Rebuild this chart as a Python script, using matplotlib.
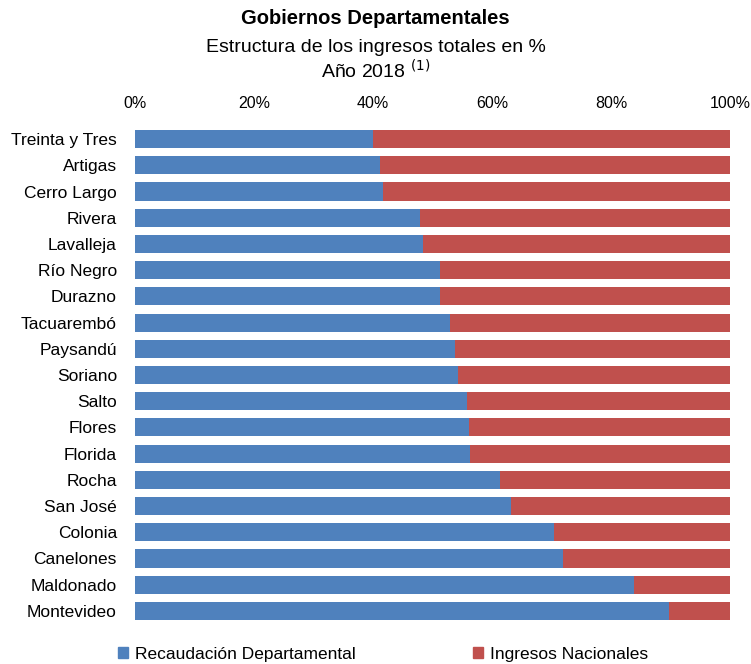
import matplotlib
matplotlib.use("Agg")
import matplotlib.pyplot as plt
import numpy as np
from matplotlib.patches import Patch
from matplotlib.ticker import PercentFormatter

plt.rcParams['font.family'] = ['Liberation Sans', 'DejaVu Sans']

departamentos = ["Treinta y Tres", "Artigas", "Cerro Largo", "Rivera", "Lavalleja",
                 "Río Negro", "Durazno", "Tacuarembó", "Paysandú", "Soriano",
                 "Salto", "Flores", "Florida", "Rocha", "San José", "Colonia",
                 "Canelones", "Maldonado", "Montevideo"]
recaudacion = [40.0, 41.2, 41.7, 47.9, 48.4, 51.3, 51.3, 52.9, 53.8, 54.3,
               55.8, 56.1, 56.3, 61.3, 63.2, 70.5, 71.9, 83.9, 89.7]
nacionales = [100 - v for v in recaudacion]

azul = "#4F81BD"
rojo = "#C0504D"

fig = plt.figure(figsize=(7.51, 6.64), dpi=100)
ax = fig.add_axes([135 / 751, 1 - 624 / 664, 595 / 751, 498 / 664])

y = np.arange(len(departamentos))
ax.barh(y, recaudacion, height=0.69, color=azul, label="Recaudación Departamental")
ax.barh(y, nacionales, left=recaudacion, height=0.69, color=rojo, label="Ingresos Nacionales")

ax.set_xlim(0, 100)
ax.set_ylim(len(departamentos) - 0.5, -0.5)
ax.set_yticks(y)
ax.set_yticklabels(departamentos)
ax.set_xticks(np.arange(0, 101, 20))
ax.xaxis.set_major_formatter(PercentFormatter(decimals=0))
ax.xaxis.tick_top()
ax.tick_params(axis="x", length=0, pad=11, labelsize=11.5)
ax.tick_params(axis="y", length=0, pad=13, labelsize=12.5)
for s in ax.spines.values():
    s.set_visible(False)

fig.text(0.5, 1 - 18 / 664, "Gobiernos Departamentales", ha="center", va="center",
         fontsize=14.5, fontweight="bold")
fig.text(0.5, 1 - 47 / 664, "Estructura de los ingresos totales en %", ha="center",
         va="center", fontsize=14)
fig.text(0.5, 1 - 71 / 664, "Año 2018 $^{(1)}$", ha="center", va="center", fontsize=14)

handles = [Patch(color=azul), Patch(color=rojo)]
fig.legend(handles, ["Recaudación Departamental", "Ingresos Nacionales"],
           loc="center", bbox_to_anchor=(383 / 751, 1 - 654 / 664), ncol=2,
           frameon=False, fontsize=12.5, handlelength=0.55, handleheight=0.55,
           handletextpad=0.4, columnspacing=6.8)

fig.savefig("out.png", dpi=100)
